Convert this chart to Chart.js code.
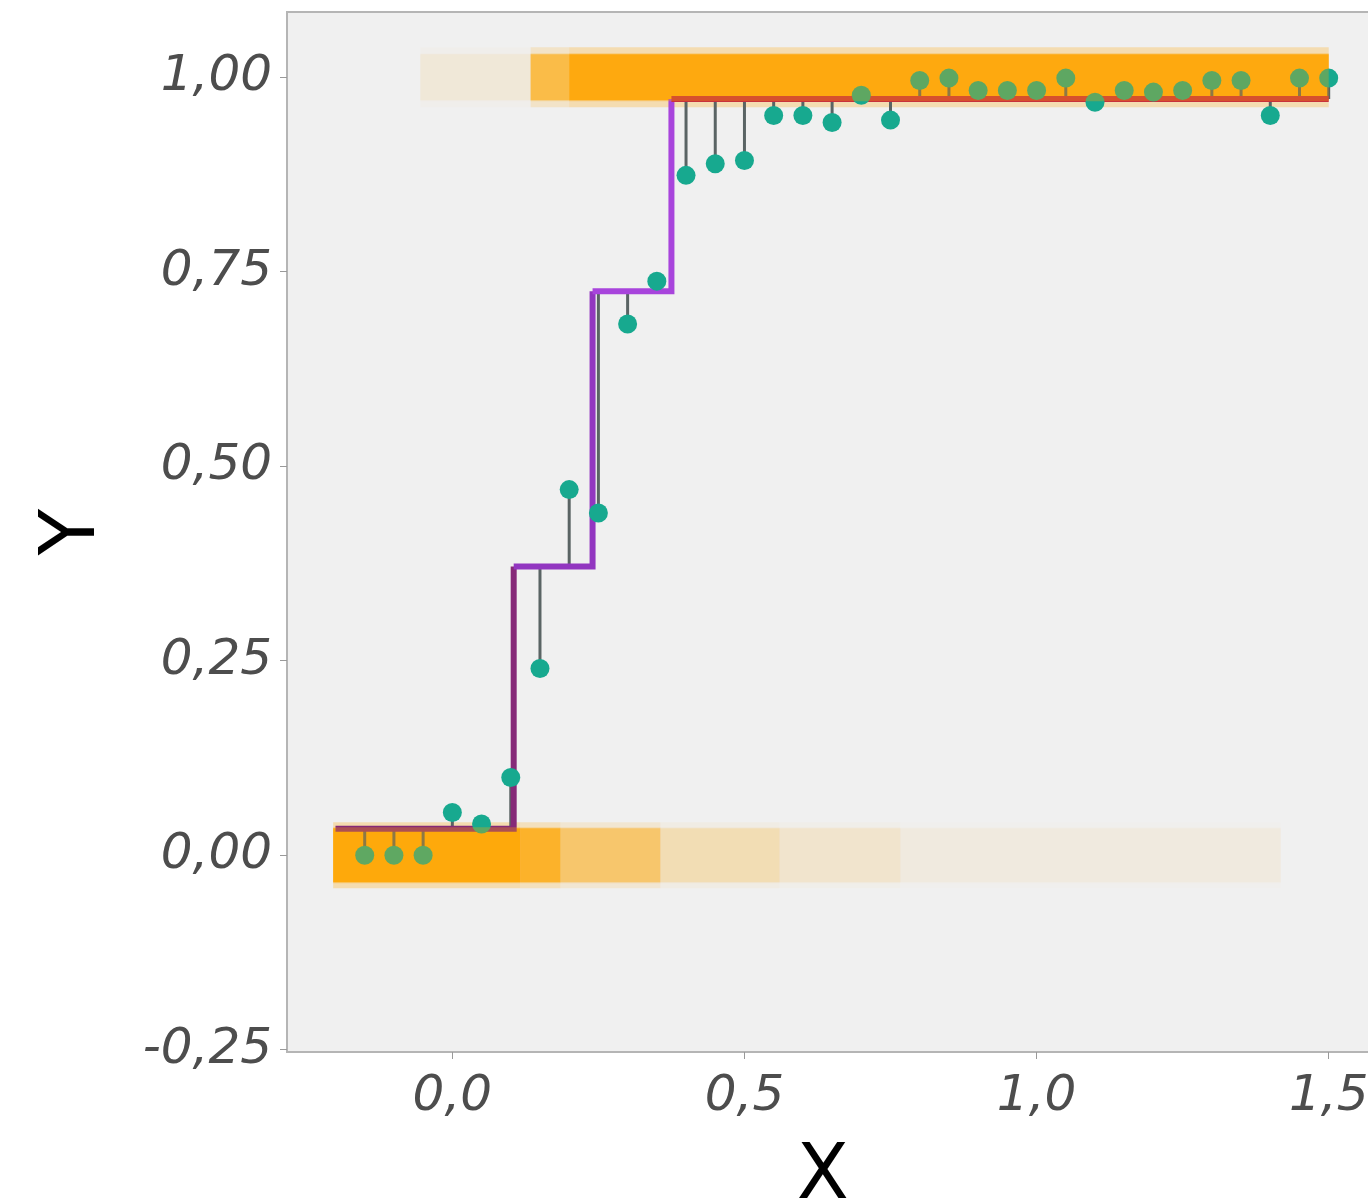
<!DOCTYPE html>
<html>
<head>
<meta charset="utf-8">
<script src="https://cdn.jsdelivr.net/npm/chart.js@4.4.1/dist/chart.umd.min.js"></script>
<style>
  html, body { margin: 0; padding: 0; background: #fff; }
  #wrap { width: 1368px; height: 1202px; }
</style>
</head>
<body>
<div id="wrap"><canvas id="stepChart" width="1368" height="1202"></canvas></div>
<script>
// axis ticks
const xTicks = [0, 0.5, 1.0, 1.5];
const yTicks = [-0.25, 0, 0.25, 0.5, 0.75, 1.0];

// observed proportions (teal points)
const obsX = [-0.15, -0.10, -0.05, 0.00, 0.05, 0.10, 0.15, 0.20, 0.25, 0.30, 0.35, 0.40,
              0.45, 0.50, 0.55, 0.60, 0.65, 0.70, 0.75, 0.80, 0.85, 0.90, 0.95, 1.00,
              1.05, 1.10, 1.15, 1.20, 1.25, 1.30, 1.35, 1.40, 1.45, 1.50];
const obsY = [0.00, 0.00, 0.00, 0.055, 0.04, 0.10, 0.24, 0.47, 0.44, 0.683, 0.738, 0.874,
              0.889, 0.893, 0.951, 0.951, 0.942, 0.977, 0.945, 0.996, 0.999, 0.983, 0.983, 0.983,
              0.999, 0.968, 0.983, 0.981, 0.983, 0.996, 0.996, 0.951, 0.999, 0.999];

// fitted step function (level starting at each x)
const stepX = [-0.2, 0.105, 0.24, 0.375, 1.5];
const stepY = [0.034, 0.371, 0.725, 0.972, 0.972];

// jittered 0/1 outcomes, summarised as density along the two bands
const topBandEdges = [-0.055, 0.134, 0.2, 1.5];
const topBandDensity = [0.06, 0.55, 0.88];
const bottomBandEdges = [-0.204, 0.116, 0.185, 0.356, 0.56, 0.767, 1.418];
const bottomBandDensity = [0.9, 0.7, 0.4, 0.16, 0.09, 0.04];

const stepColors = ["#862a78", "#9236c0", "#a844dc", "#c42a42"];

function stepAt(x) {
    let level = stepY[0];
    stepX.forEach((sx, i) => { if (sx <= x) level = stepY[i]; });
    return level;
}

const stemData = [];
obsX.forEach((x, i) => {
    stemData.push({ x: x, y: stepAt(x) }, { x: x, y: obsY[i] }, { x: x, y: null });
});

function bandDataset(edges, density, level, width, alphaScale, order) {
    return {
        data: edges.map((x) => ({ x: x, y: level })),
        borderWidth: width,
        borderCapStyle: "butt",
        pointRadius: 0,
        order: order,
        segment: {
            borderColor: (c) => "rgba(255, 165, 0, " + (density[c.p0DataIndex] * alphaScale) + ")",
        },
    };
}

// grey panel running to the right edge of the canvas, like the cropped original
const panelBg = {
    id: "panelBg",
    beforeDraw(chart) {
        const { ctx, chartArea: a } = chart;
        const right = chart.width + 2;
        ctx.save();
        ctx.fillStyle = "#f0f0f0";
        ctx.fillRect(a.left, a.top, right - a.left, a.bottom - a.top);
        ctx.strokeStyle = "#b5b5b5";
        ctx.lineWidth = 2;
        ctx.strokeRect(a.left, a.top, right - a.left, a.bottom - a.top);
        ctx.restore();
    },
};

const tickFont = { family: "DejaVu Sans", size: 50, style: "italic" };
const titleFont = { family: "DejaVu Sans", size: 76, lineHeight: 1 };

new Chart(document.getElementById("stepChart"), {
    type: "line",
    data: {
        datasets: [
            {
                data: obsX.map((x, i) => ({ x: x, y: obsY[i] })),
                showLine: false,
                pointRadius: 9.5,
                pointBackgroundColor: "#17a98f",
                pointBorderWidth: 0,
                order: 1,
            },
            bandDataset(topBandEdges, topBandDensity, 1.0, 48, 0.35, 0),
            bandDataset(bottomBandEdges, bottomBandDensity, 0.0, 56, 0.35, 0),
            {
                data: stepX.map((x, i) => ({ x: x, y: stepY[i] })),
                stepped: "before",
                borderWidth: 6,
                pointRadius: 0,
                segment: { borderColor: (c) => stepColors[c.p0DataIndex] },
                order: 3,
            },
            {
                data: stemData,
                borderColor: "#5a6464",
                borderWidth: 3,
                pointRadius: 0,
                spanGaps: false,
                order: 4,
            },
            bandDataset(topBandEdges, topBandDensity, 1.0, 46, 1, 6),
            bandDataset(bottomBandEdges, bottomBandDensity, 0.0, 54, 1, 6),
            bandDataset(topBandEdges, topBandDensity, 1.0, 60, 0.3, 7),
            bandDataset(bottomBandEdges, bottomBandDensity, 0.0, 66, 0.3, 7),
        ],
    },
    options: {
        responsive: false,
        animation: false,
        layout: { padding: { top: 12, left: 0, right: 0, bottom: 0 } },
        plugins: { legend: { display: false }, tooltip: { enabled: false } },
        scales: {
            x: {
                type: "linear",
                min: -0.283,
                max: 1.551,
                afterBuildTicks: (s) => { s.ticks = xTicks.map((v) => ({ value: v })); },
                afterFit: (s) => { s.height = 150; s.paddingLeft = 0; s.paddingRight = 0; },
                grid: { drawOnChartArea: false, tickLength: 7, color: "#999" },
                border: { display: false },
                ticks: {
                    font: tickFont,
                    color: "#4d4d4d",
                    padding: 8,
                    maxRotation: 0,
                    callback: (v) => v.toFixed(1).replace(".", ","),
                },
                title: { display: true, text: "X", font: titleFont, color: "#000", padding: { top: 0, bottom: -14 } },
            },
            y: {
                min: -0.253,
                max: 1.084,
                afterBuildTicks: (s) => { s.ticks = yTicks.map((v) => ({ value: v })); },
                afterFit: (s) => { s.width = 287; s.paddingTop = 0; s.paddingBottom = 0; },
                grid: { drawOnChartArea: false, tickLength: 7, color: "#999" },
                border: { display: false },
                ticks: {
                    font: tickFont,
                    color: "#4d4d4d",
                    padding: 8,
                    callback: (v) => v.toFixed(2).replace(".", ","),
                },
                title: { display: true, text: "Y", font: titleFont, color: "#000", padding: { top: 36, bottom: 0 } },
            },
        },
    },
    plugins: [panelBg],
});
</script>
</body>
</html>
